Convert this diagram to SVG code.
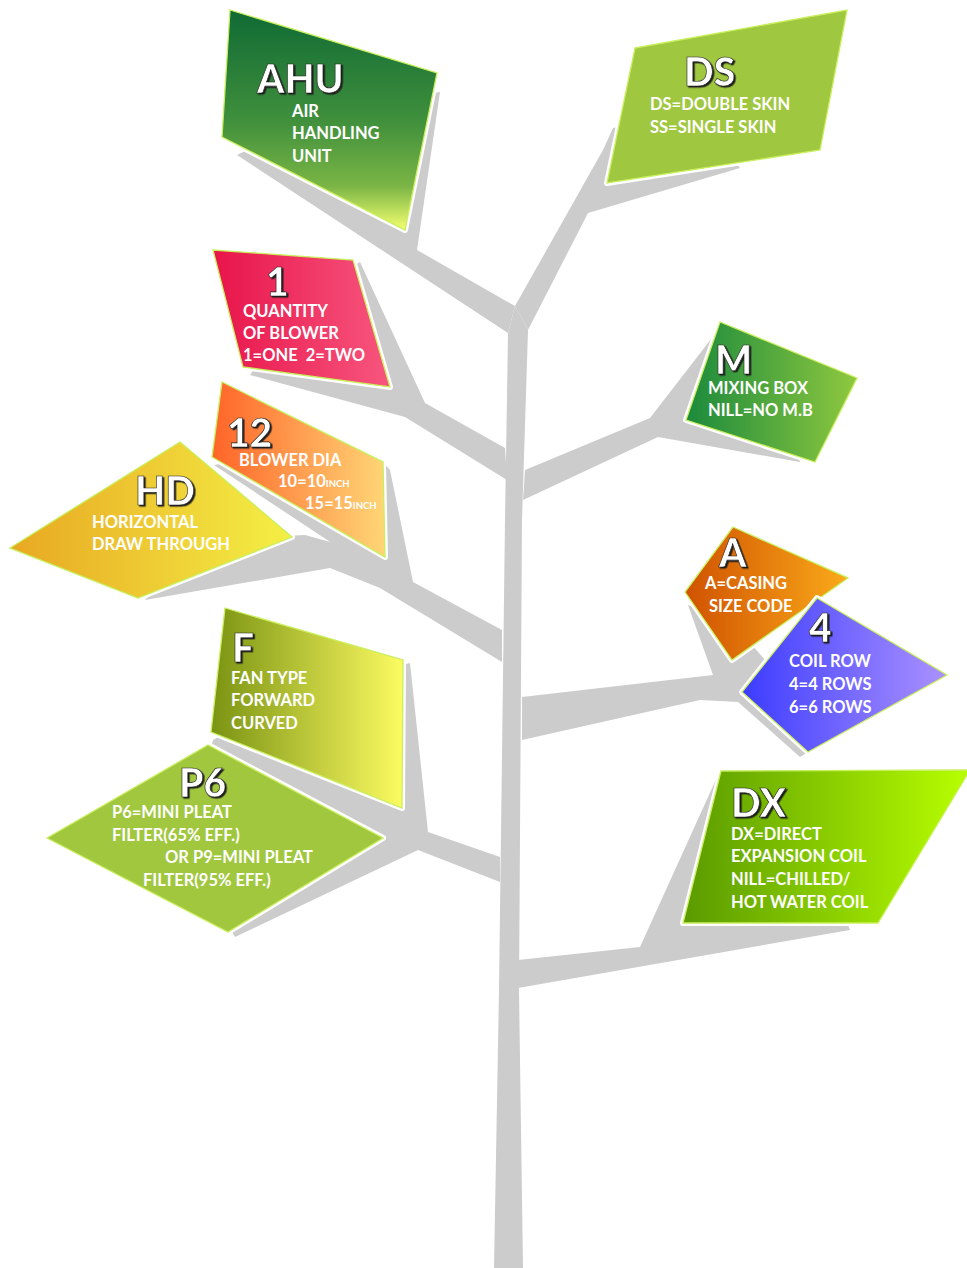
<svg xmlns="http://www.w3.org/2000/svg" width="967" height="1268" viewBox="0 0 967 1268">
  <defs>
    <style>
      .tree { fill: #cccccc; }
      .halo { fill: none; stroke: #ffffff; stroke-width: 6; stroke-linejoin: round; }
      .leaf { stroke: #c8ef5c; stroke-width: 1.3; stroke-linejoin: miter; }
      .big { font-family: Lato, "Liberation Sans", sans-serif; font-weight: 900; font-size: 39px; fill: #ffffff; stroke: #1a1a1a; stroke-width: 0.6; filter: url(#tsh); }
      .lbl { font-family: Lato, "Liberation Sans", sans-serif; font-weight: 700; font-size: 16.5px; fill: #ffffff; }
      .sub { font-size: 9.5px; }
    </style>
    <filter id="tsh" x="-10%" y="-10%" width="130%" height="130%">
      <feDropShadow dx="1.6" dy="1.4" stdDeviation="0.2" flood-color="#1a1a1a" flood-opacity="1"/>
    </filter>
    <linearGradient id="gAhu" x1="0" y1="0" x2="0" y2="1">
      <stop offset="0" stop-color="#0f6a34"/>
      <stop offset="0.5" stop-color="#3f8f3c"/>
      <stop offset="0.8" stop-color="#7ab545"/>
      <stop offset="1" stop-color="#f4ff70"/>
    </linearGradient>
    <linearGradient id="gOne" x1="0" y1="0" x2="1" y2="0">
      <stop offset="0" stop-color="#e8144a"/>
      <stop offset="1" stop-color="#f7567e"/>
    </linearGradient>
    <linearGradient id="gM" x1="0" y1="0" x2="1" y2="0">
      <stop offset="0" stop-color="#1b8a3c"/>
      <stop offset="1" stop-color="#8fc83f"/>
    </linearGradient>
    <linearGradient id="g12" x1="0" y1="0" x2="1" y2="0">
      <stop offset="0" stop-color="#ff6428"/>
      <stop offset="1" stop-color="#ffd676"/>
    </linearGradient>
    <linearGradient id="gHd" x1="0" y1="0" x2="1" y2="0">
      <stop offset="0" stop-color="#e8a822"/>
      <stop offset="1" stop-color="#f4ef45"/>
    </linearGradient>
    <linearGradient id="gA" x1="0" y1="0" x2="1" y2="0">
      <stop offset="0" stop-color="#d05200"/>
      <stop offset="1" stop-color="#faaa1a"/>
    </linearGradient>
    <linearGradient id="g4" x1="0" y1="0" x2="1" y2="0">
      <stop offset="0" stop-color="#3c3cff"/>
      <stop offset="1" stop-color="#ab92ff"/>
    </linearGradient>
    <linearGradient id="gF" x1="0" y1="0" x2="1" y2="0">
      <stop offset="0" stop-color="#7a9312"/>
      <stop offset="1" stop-color="#fcfb62"/>
    </linearGradient>
    <linearGradient id="gDx" x1="0" y1="0" x2="1" y2="0">
      <stop offset="0" stop-color="#5a9a00"/>
      <stop offset="1" stop-color="#b8ff00"/>
    </linearGradient>
  </defs>

  <rect width="967" height="1268" fill="#ffffff"/>

  <!-- grey trunk and branches (the connectors) -->
  <g id="connectors" class="tree">
    <polygon points="508,333 515,306 528,330 522,520 519,990 523,1268 494,1268 499,990 505,520"/>
    <!-- to AHU -->
    <polygon points="515,306 417,250 440,92 330,110 237,155 508,333"/>
    <!-- to DS -->
    <polygon points="515,306 603,150 613,128 700,110 740,168 588,213 528,330"/>
    <!-- to 1 -->
    <polygon points="505,448 425,403 360,262 300,300 250,375 405,417 507,480"/>
    <!-- to M -->
    <polygon points="525,470 650,418 718,330 780,400 800,462 658,437 523,500"/>
    <!-- to 12 and HD -->
    <polygon points="383,462 390,470 413,582 380,575 214,465 300,450"/>
    <polygon points="502,630 413,582 395,560 305,535 200,540 145,600 330,568 380,588 502,662"/>
    <!-- to A and 4 -->
    <polygon points="522,697 713,675 688,605 730,620 800,700 808,752 800,757 738,702 700,700 522,740"/>
    <!-- to F and P6 -->
    <polygon points="500,857 428,832 410,663 300,690 213,740 208,760 228,925 235,937 418,850 500,882"/>
    <!-- to DX -->
    <polygon points="518,960 640,947 718,775 800,800 850,930 518,988"/>
  </g>

  <g id="node-ahu">
    <polygon class="halo" points="230,10 437,73 405,230 222,137"/>
    <polygon class="leaf" fill="url(#gAhu)" points="230,10 437,73 405,230 222,137"/>
    <text class="big" x="257" y="93">AHU</text>
    <text class="lbl" x="292" y="117">AIR</text>
    <text class="lbl" x="292" y="139">HANDLING</text>
    <text class="lbl" x="292" y="162">UNIT</text>
  </g>

  <g id="node-ds">
    <polygon class="halo" points="635,48 847,10 820,150 607,183"/>
    <polygon class="leaf" fill="#9fc73f" points="635,48 847,10 820,150 607,183"/>
    <text class="big" x="684" y="86">DS</text>
    <text class="lbl" x="650" y="110">DS=DOUBLE SKIN</text>
    <text class="lbl" x="650" y="133">SS=SINGLE SKIN</text>
  </g>

  <g id="node-1">
    <polygon class="halo" points="213,250 353,260 390,387 243,367"/>
    <polygon class="leaf" fill="url(#gOne)" points="213,250 353,260 390,387 243,367"/>
    <text class="big" x="266" y="296">1</text>
    <text class="lbl" x="243" y="317">QUANTITY</text>
    <text class="lbl" x="243" y="339">OF BLOWER</text>
    <text class="lbl" x="243" y="361" xml:space="preserve">1=ONE  2=TWO</text>
  </g>

  <g id="node-m">
    <polygon class="halo" points="720,322 857,378 815,462 686,420"/>
    <polygon class="leaf" fill="url(#gM)" points="720,322 857,378 815,462 686,420"/>
    <text class="big" x="715" y="374">M</text>
    <text class="lbl" x="708" y="394">MIXING BOX</text>
    <text class="lbl" x="708" y="416">NILL=NO M.B</text>
  </g>

  <g id="node-12">
    <polygon class="halo" points="222,382 383,462 385,557 212,457"/>
    <polygon class="leaf" fill="url(#g12)" points="222,382 383,462 385,557 212,457"/>
    <text class="big" x="227" y="447">12</text>
    <text class="lbl" x="239" y="466">BLOWER DIA</text>
    <text class="lbl" x="278" y="487">10=10<tspan class="sub">INCH</tspan></text>
    <text class="lbl" x="305" y="509">15=15<tspan class="sub">INCH</tspan></text>
  </g>

  <g id="node-hd">
    <polygon class="halo" points="10,548 180,442 292,537 138,598"/>
    <polygon class="leaf" fill="url(#gHd)" points="10,548 180,442 292,537 138,598"/>
    <text class="big" x="135" y="505">HD</text>
    <text class="lbl" x="92" y="528">HORIZONTAL</text>
    <text class="lbl" x="92" y="550">DRAW THROUGH</text>
  </g>

  <g id="node-a">
    <polygon class="halo" points="733,527 848,578 732,660 685,592"/>
    <polygon class="leaf" fill="url(#gA)" points="733,527 848,578 732,660 685,592"/>
    <text class="big" x="719" y="567">A</text>
    <text class="lbl" x="705" y="589">A=CASING</text>
    <text class="lbl" x="709" y="612">SIZE CODE</text>
  </g>

  <g id="node-4">
    <polygon class="halo" points="817,598 947,675 808,752 742,692"/>
    <polygon class="leaf" fill="url(#g4)" points="817,598 947,675 808,752 742,692"/>
    <text class="big" x="809" y="642">4</text>
    <text class="lbl" x="789" y="667">COIL ROW</text>
    <text class="lbl" x="789" y="690">4=4 ROWS</text>
    <text class="lbl" x="789" y="713">6=6 ROWS</text>
  </g>

  <g id="node-f">
    <polygon class="halo" points="225,608 403,660 402,808 211,732"/>
    <polygon class="leaf" fill="url(#gF)" points="225,608 403,660 402,808 211,732"/>
    <text class="big" x="232" y="662">F</text>
    <text class="lbl" x="231" y="684">FAN TYPE</text>
    <text class="lbl" x="231" y="706">FORWARD</text>
    <text class="lbl" x="231" y="729">CURVED</text>
  </g>

  <g id="node-p6">
    <polygon class="halo" points="47,838 208,745 383,838 228,932"/>
    <polygon class="leaf" fill="#a0c73e" points="47,838 208,745 383,838 228,932"/>
    <text class="big" x="179" y="797">P6</text>
    <text class="lbl" x="112" y="818">P6=MINI PLEAT</text>
    <text class="lbl" x="112" y="841">FILTER(65% EFF.)</text>
    <text class="lbl" x="165" y="863">OR P9=MINI PLEAT</text>
    <text class="lbl" x="143" y="886">FILTER(95% EFF.)</text>
  </g>

  <g id="node-dx">
    <polygon class="halo" points="721,771 970,770 878,923 683,923"/>
    <polygon class="leaf" fill="url(#gDx)" points="721,771 970,770 878,923 683,923"/>
    <text class="big" x="731" y="817">DX</text>
    <text class="lbl" x="731" y="840">DX=DIRECT</text>
    <text class="lbl" x="731" y="862">EXPANSION COIL</text>
    <text class="lbl" x="731" y="885">NILL=CHILLED/</text>
    <text class="lbl" x="731" y="908">HOT WATER COIL</text>
  </g>
</svg>
